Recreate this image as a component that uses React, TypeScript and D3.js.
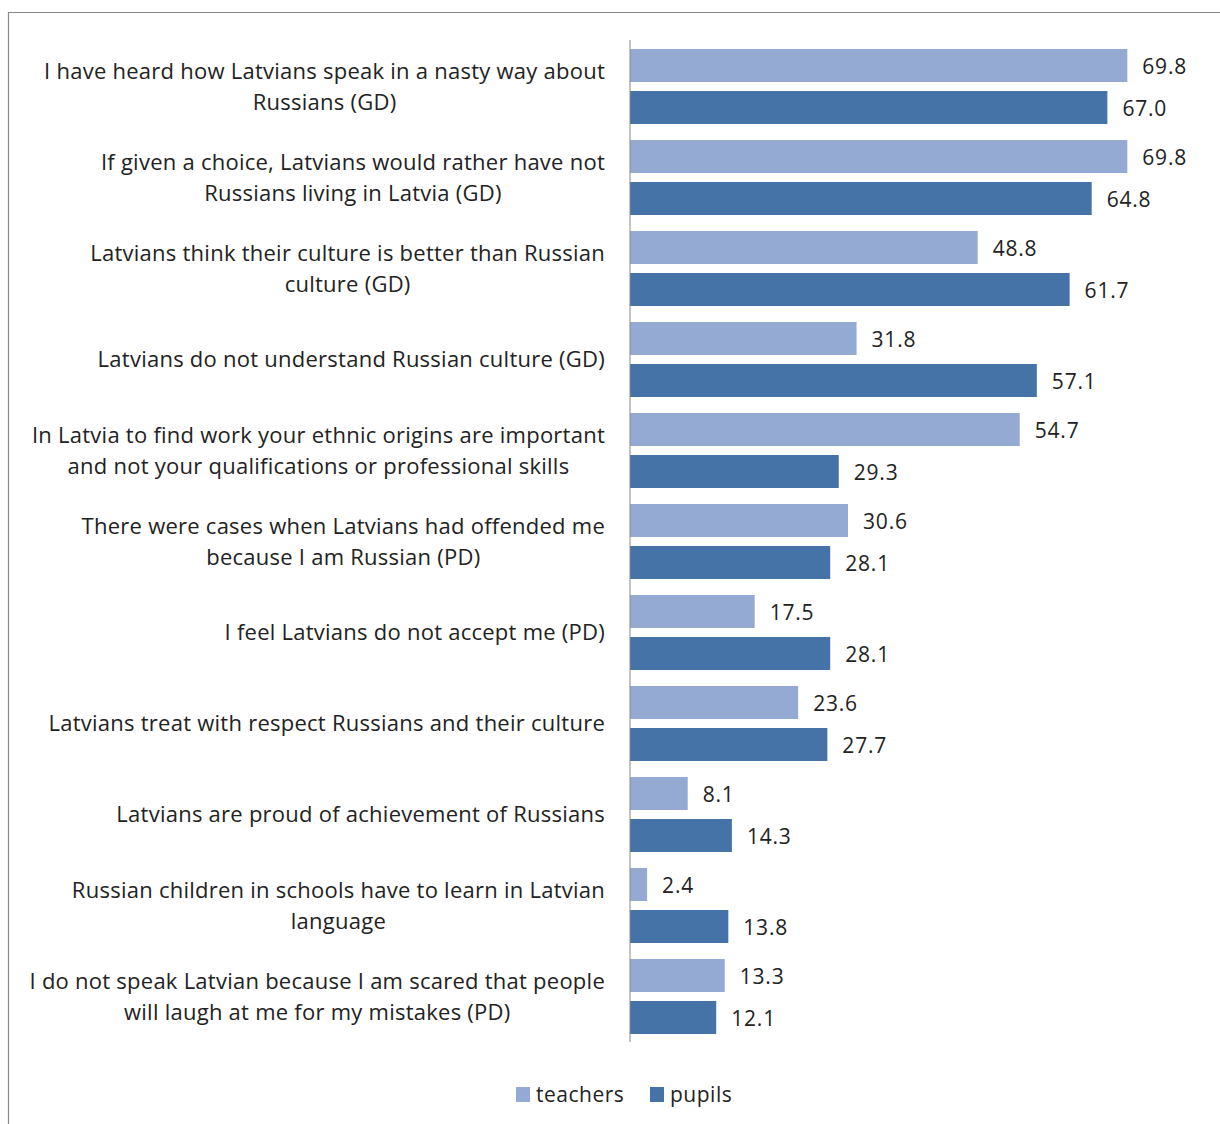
import React, { useEffect, useRef } from "react";
import * as d3 from "d3";

const categories: string[][] = [
  ["I have heard  how Latvians speak in a nasty way about", "Russians (GD)"],
  ["If given a choice, Latvians would rather have not", "Russians living in Latvia (GD)"],
  ["Latvians think their culture is better than Russian", "culture (GD)"],
  ["Latvians do not understand Russian culture (GD)"],
  ["In Latvia to find work your ethnic origins are important", "and not your qualifications or professional skills"],
  ["There were cases  when Latvians had offended me", "because I am Russian (PD)"],
  ["I feel  Latvians do not accept me (PD)"],
  ["Latvians treat with respect Russians and their culture"],
  ["Latvians are proud of achievement of Russians"],
  ["Russian children in schools have to learn in Latvian", "language"],
  ["I do not speak Latvian because I am scared that people", "will laugh at me for my mistakes (PD)"],
];
const teachers: number[] = [69.8, 69.8, 48.8, 31.8, 54.7, 30.6, 17.5, 23.6, 8.1, 2.4, 13.3];
const pupils: number[] = [67.0, 64.8, 61.7, 57.1, 29.3, 28.1, 28.1, 27.7, 14.3, 13.8, 12.1];
const seriesNames = ["teachers", "pupils"];
const colors = ["#95AAD2", "#4573A8"];

const FONT = "'Open Sans', sans-serif";

export default function App() {
  const ref = useRef<SVGSVGElement | null>(null);
  useEffect(() => {
    const svg = d3.select(ref.current);
    svg.selectAll("*").remove();
    const W = 1220, H = 1124;
    svg.append("rect").attr("x", 0).attr("y", 0).attr("width", W).attr("height", H).attr("fill", "#fff");
    // border
    svg.append("path").attr("d", `M8.5,${H} V12.5 H${W}`).attr("fill", "none").attr("stroke", "#8a8a8a").attr("stroke-width", 1.2);

    const x = d3.scaleLinear().domain([0, 80]).range([630, 1200]);
    const idx = categories.map((_, i) => String(i));
    const y0 = d3.scaleBand().domain(idx).range([41, 1042]).paddingInner(0).paddingOuter(0);
    const y1 = d3.scaleBand().domain(seriesNames).range([8, y0.bandwidth() - 8]).paddingInner(0.214);

    const g = svg.append("g");
    const data = categories.map((c, i) => ({ i, vals: [teachers[i], pupils[i]] }));
    data.forEach((d) => {
      const gy = y0(String(d.i))!;
      d.vals.forEach((v, s) => {
        const by = gy + y1(seriesNames[s])!;
        g.append("rect").attr("x", x(0)).attr("y", by).attr("width", x(v) - x(0)).attr("height", y1.bandwidth()).attr("fill", colors[s]);
        g.append("text").attr("x", x(v) + 15).attr("y", by + y1.bandwidth() / 2 + 1).attr("dy", "0.35em")
          .attr("font-family", FONT).attr("font-size", 21).attr("letter-spacing", 0.8).attr("fill", "#222").text(v.toFixed(1));
      });
      // labels
      const lines = categories[d.i];
      const cy = gy + y0.bandwidth() / 2;
      const lh = 31;
      const t = g.append("text").attr("font-family", FONT).attr("font-size", 22).attr("letter-spacing", 0.25).attr("fill", "#222").attr("text-anchor", "middle");
      lines.forEach((ln, k) => {
        t.append("tspan").attr("x", 0).attr("y", cy + (k - (lines.length - 1) / 2) * lh).attr("dy", "0.35em").text(ln);
      });
      let maxW = 0;
      t.selectAll("tspan").each(function () {
        const w = (this as SVGTextContentElement).getComputedTextLength();
        if (w > maxW) maxW = w;
      });
      t.attr("transform", `translate(${605 - maxW / 2},0)`);
    });
    // axis line
    svg.append("line").attr("x1", 630).attr("x2", 630).attr("y1", 40).attr("y2", 1042).attr("stroke", "#888").attr("stroke-width", 1);

    // legend
    const lg = svg.append("g");
    const items = [{ x: 516, name: seriesNames[0], c: colors[0] }, { x: 650, name: seriesNames[1], c: colors[1] }];
    items.forEach((it) => {
      lg.append("rect").attr("x", it.x).attr("y", 1087).attr("width", 14).attr("height", 15).attr("fill", it.c);
      lg.append("text").attr("x", it.x + 20).attr("y", 1094.5).attr("dy", "0.35em").attr("font-family", FONT).attr("font-size", 21).attr("letter-spacing", 0.5).attr("fill", "#222").text(it.name);
    });
  }, []);
  return <svg ref={ref} width={1220} height={1124} style={{ display: "block", position: "absolute", left: 0, top: 0 }} />;
}
